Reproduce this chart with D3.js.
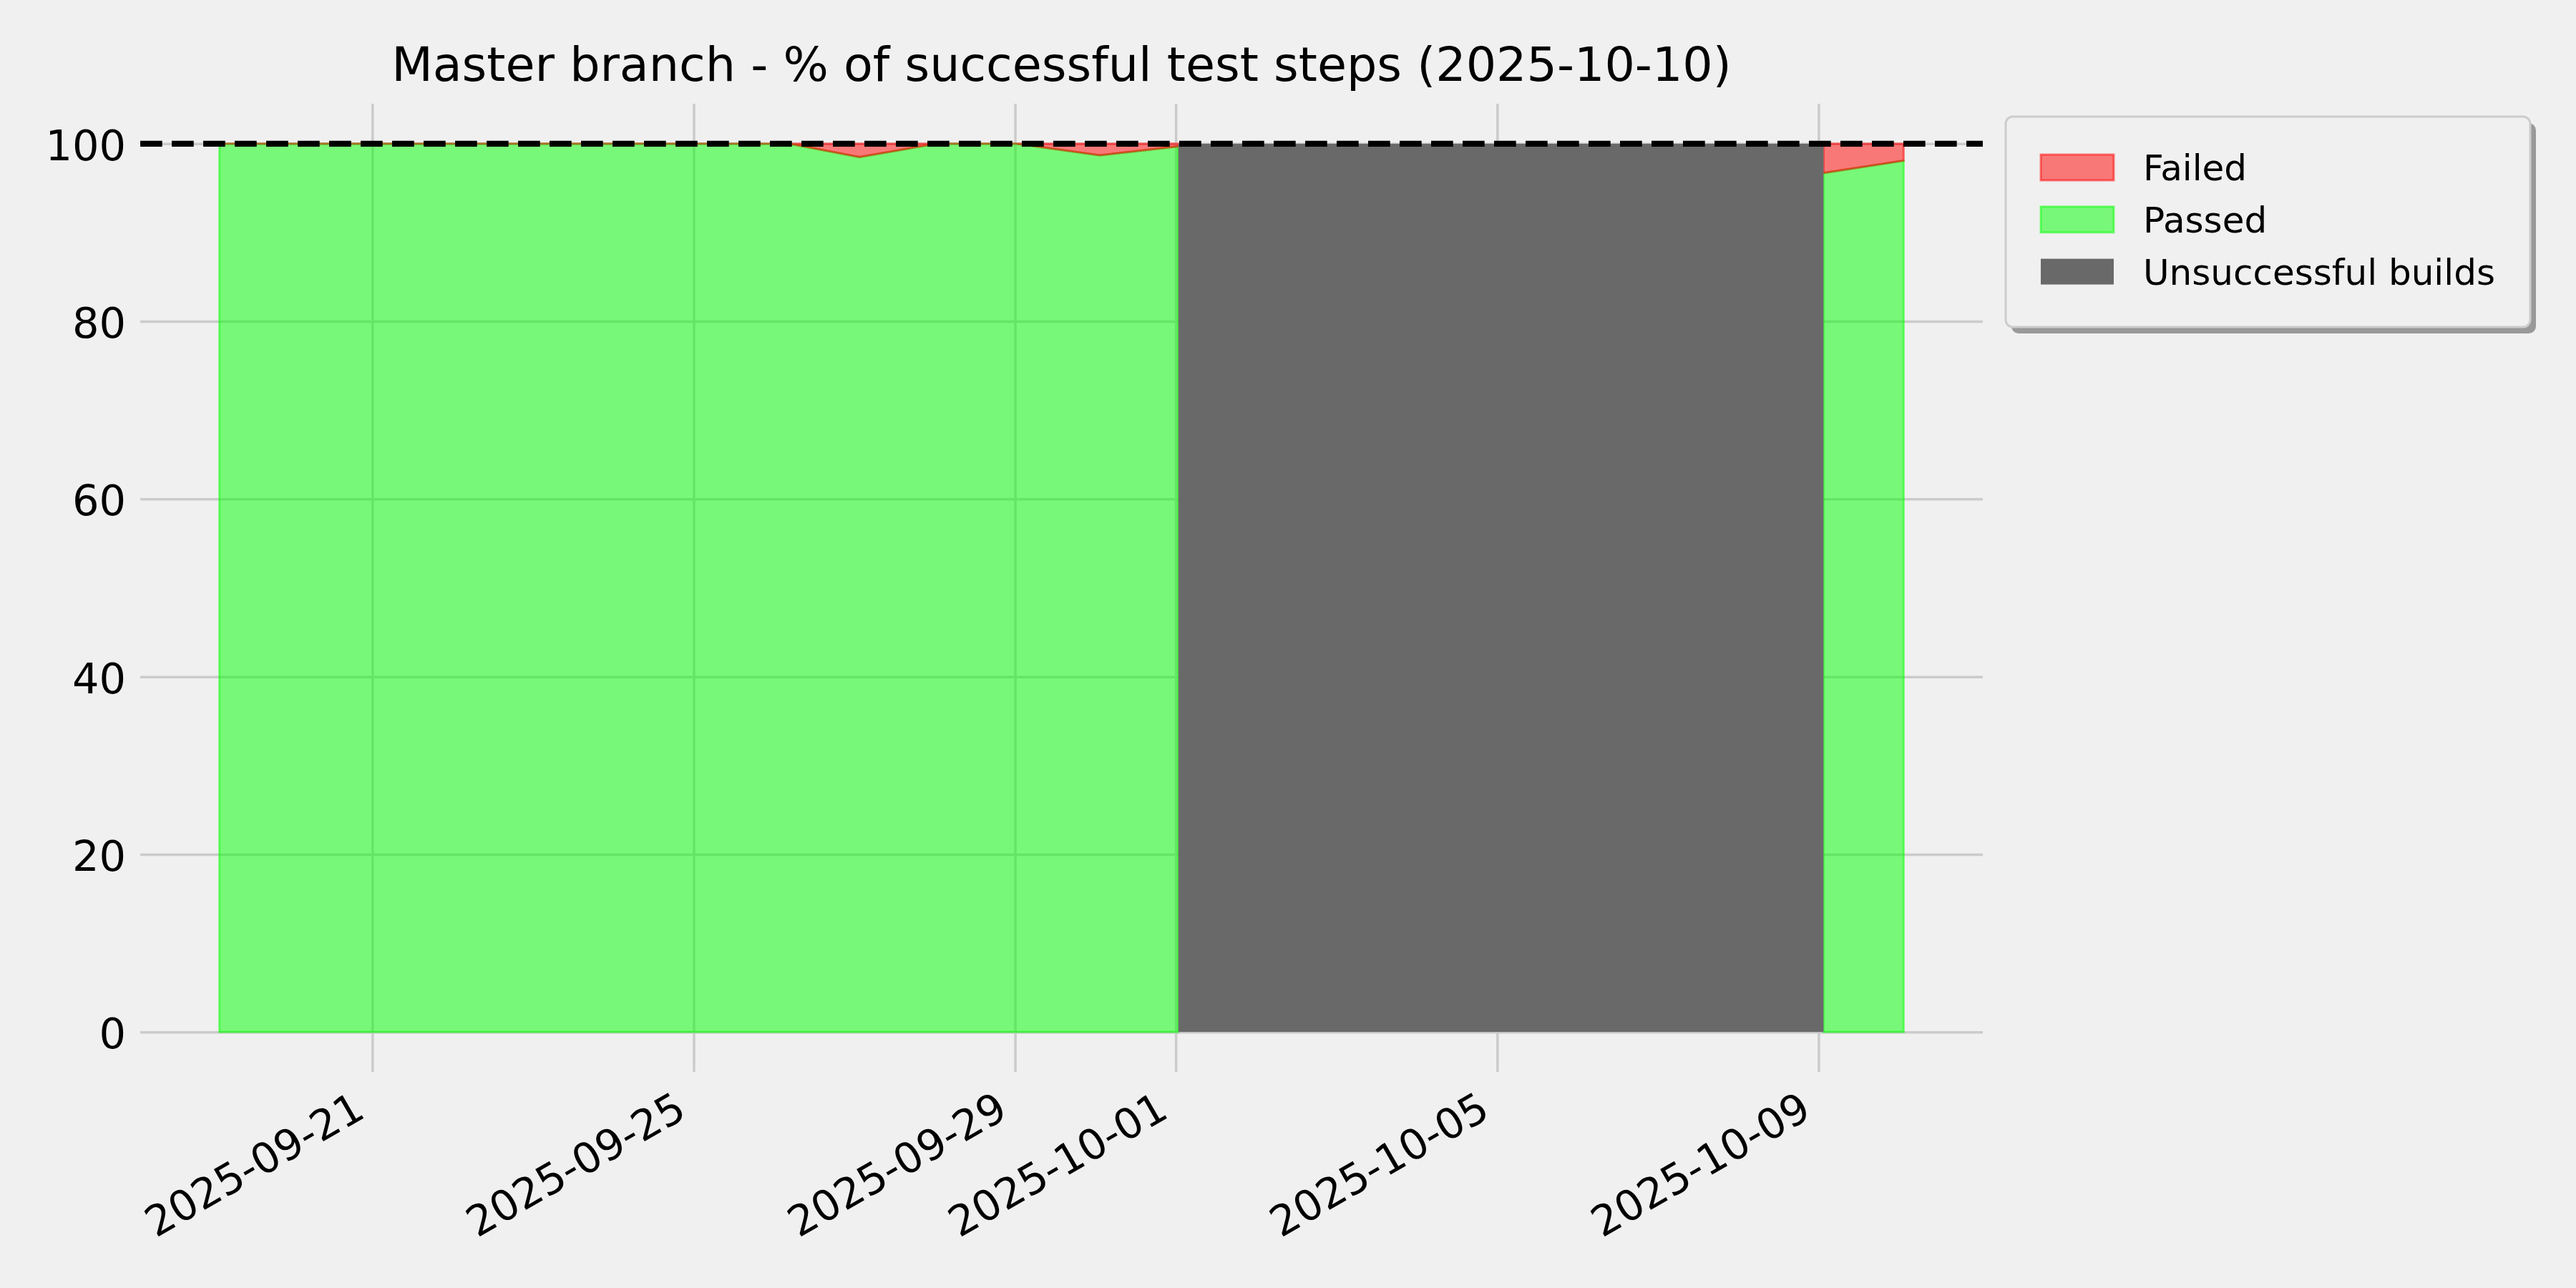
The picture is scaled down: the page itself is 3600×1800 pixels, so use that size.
<!DOCTYPE html>
<html>
<head>
<meta charset="utf-8">
<script src="https://cdn.jsdelivr.net/npm/d3@7"></script>
<style>
  body { margin: 0; background: #f0f0f0; }
  text { font-family: "DejaVu Sans", sans-serif; fill: #000; }
</style>
</head>
<body>
<svg id="chart"></svg>
<script>
// daily master builds, null = build did not succeed
var buildTimes = ["2025-09-19 02:20", "2025-09-20 01:30", "2025-09-21 01:30", "2025-09-22 01:30",
                  "2025-09-23 01:30", "2025-09-24 01:30", "2025-09-25 01:30", "2025-09-26 04:30",
                  "2025-09-27 01:30", "2025-09-28 00:30", "2025-09-29 00:15", "2025-09-30 01:20",
                  "2025-10-01 00:45", "2025-10-02 01:30", "2025-10-03 01:30", "2025-10-04 01:30",
                  "2025-10-05 01:30", "2025-10-06 01:30", "2025-10-07 01:30", "2025-10-08 01:30",
                  "2025-10-09 01:30", "2025-10-10 01:25"]
var passed = [100, 100, 100, 100, 100, 100, 100, 100, 98.5, 100, 100, 98.7, 99.7,
              null, null, null, null, null, null, null, 96.7, 98.1]
var failed = [0, 0, 0, 0, 0, 0, 0, 0, 1.5, 0, 0, 1.3, 0.3,
              null, null, null, null, null, null, null, 3.3, 1.9]

var xTicks = ["2025-09-21", "2025-09-25", "2025-09-29", "2025-10-01", "2025-10-05", "2025-10-09"]
var yTicks = [0, 20, 40, 60, 80, 100]
var legendNames = ["Failed", "Passed", "Unsuccessful builds"]
var titleText = "Master branch - % of successful test steps (2025-10-10)"

var screen = {width: 3600, height: 1800}
var margins = {top: 145, right: 829, bottom: 302, left: 196}
var width = screen.width - margins.left - margins.right
var height = screen.height - margins.top - margins.bottom

var parseTime = d3.utcParse("%Y-%m-%d %H:%M")
var parseDay = d3.utcParse("%Y-%m-%d")

var rows = buildTimes.map(function(t, i) {
    return {date: parseTime(t), passed: passed[i], failed: failed[i]}
})

var svg = d3.select("#chart")
    .attr("width", screen.width)
    .attr("height", screen.height)

svg.append("rect")
    .attr("width", screen.width)
    .attr("height", screen.height)
    .attr("fill", "#f0f0f0")

var graph = svg.append("g")
    .attr("transform", "translate(" + margins.left + "," + margins.top + ")")

// x limits with a small margin round the data
var t0 = rows[0].date, t1 = rows[rows.length - 1].date
var pad = (t1 - t0) * 0.047
var xScale = d3.scaleUtc()
    .domain([new Date(+t0 - pad), new Date(+t1 + pad)])
    .range([0, width])

var yScale = d3.scaleLinear()
    .domain([-4.5, 104.5])
    .range([height, 0])

// grid + tick labels
var yAxis = d3.axisLeft(yScale)
    .tickValues(yTicks)
    .tickSize(-width)
    .tickPadding(20)

var gy = graph.append("g").attr("id", "yAxis").call(yAxis)
gy.select(".domain").remove()
gy.selectAll("line").attr("stroke", "#cbcbcb").attr("stroke-width", 3.5)
gy.selectAll("text")
    .attr("dy", "0.38em")
    .attr("font-size", 59)
    .attr("font-family", "DejaVu Sans")
    .attr("fill", "#000")

var xAxis = d3.axisBottom(xScale)
    .tickValues(xTicks.map(parseDay))
    .tickFormat(d3.utcFormat("%Y-%m-%d"))
    .tickSize(-height)

var gx = graph.append("g")
    .attr("id", "xAxis")
    .attr("transform", "translate(0," + height + ")")
    .call(xAxis)
gx.select(".domain").remove()
gx.selectAll("line").attr("stroke", "#cbcbcb").attr("stroke-width", 3.5)
gx.selectAll("text")
    .attr("x", 0)
    .attr("y", 0)
    .attr("dy", null)
    .attr("text-anchor", "end")
    .attr("transform", "translate(-8,62) rotate(-30)")
    .attr("font-size", 58.6)
    .attr("font-family", "DejaVu Sans")
    .attr("fill", "#000")

// passed / failed areas
var ok = function(d) { return d.passed != null }

var passedArea = d3.area()
    .defined(ok)
    .x(function(d) { return xScale(d.date) })
    .y0(yScale(0))
    .y1(function(d) { return yScale(d.passed) })

var failedArea = d3.area()
    .defined(ok)
    .x(function(d) { return xScale(d.date) })
    .y0(function(d) { return yScale(d.passed) })
    .y1(function(d) { return yScale(d.passed + d.failed) })

graph.append("path")
    .datum(rows)
    .attr("d", passedArea)
    .attr("fill", "#00ff00")
    .attr("fill-opacity", 0.5)
    .attr("stroke", "#00ff00")
    .attr("stroke-opacity", 0.5)
    .attr("stroke-width", 3)

graph.append("path")
    .datum(rows)
    .attr("d", failedArea)
    .attr("fill", "#ff0000")
    .attr("fill-opacity", 0.5)
    .attr("stroke", "#ff0000")
    .attr("stroke-opacity", 0.5)
    .attr("stroke-width", 3)

// unsuccessful builds: from last good build to next good build
var gaps = []
rows.forEach(function(d, i) {
    if (d.passed == null && i > 0 && rows[i - 1].passed != null) {
        var j = i
        while (j < rows.length && rows[j].passed == null) j++
        if (j < rows.length) gaps.push([rows[i - 1].date, rows[j].date])
    }
})

graph.selectAll(".gap")
    .data(gaps)
    .enter()
    .append("rect")
    .attr("class", "gap")
    .attr("x", function(g) { return xScale(g[0]) })
    .attr("width", function(g) { return xScale(g[1]) - xScale(g[0]) })
    .attr("y", yScale(100))
    .attr("height", yScale(0) - yScale(100))
    .attr("fill", "#696969")

// 100% reference
graph.append("line")
    .attr("x1", 0)
    .attr("x2", width)
    .attr("y1", yScale(100))
    .attr("y2", yScale(100))
    .attr("stroke", "#000")
    .attr("stroke-width", 8.3)
    .attr("stroke-dasharray", "30.7,13.3")

// title
svg.append("text")
    .attr("x", margins.left + width / 2)
    .attr("y", 113)
    .attr("text-anchor", "middle")
    .attr("font-size", 66.7)
    .text(titleText)

// legend
var legend = svg.append("g")
    .attr("id", "legend")
    .attr("transform", "translate(2803,163)")

legend.append("rect")
    .attr("x", 8).attr("y", 9)
    .attr("width", 733).attr("height", 294)
    .attr("rx", 10)
    .attr("fill", "#999999")

legend.append("rect")
    .attr("width", 733).attr("height", 294)
    .attr("rx", 10)
    .attr("fill", "#f0f0f0")
    .attr("stroke", "#cccccc")
    .attr("stroke-width", 3)

var swatches = [
    {fill: "#ff0000", op: 0.5, stroke: "#ff0000"},
    {fill: "#00ff00", op: 0.5, stroke: "#00ff00"},
    {fill: "#696969", op: 1, stroke: "none"}
]

var gs = legend.selectAll(".item")
    .data(legendNames)
    .enter()
    .append("g")
    .attr("class", "item")
    .attr("transform", function(d, i) { return "translate(0," + (i * 72.8) + ")" })

gs.append("rect")
    .attr("x", 49).attr("y", 53)
    .attr("width", 102).attr("height", 36)
    .attr("fill", function(d, i) { return swatches[i].fill })
    .attr("fill-opacity", function(d, i) { return swatches[i].op })
    .attr("stroke", function(d, i) { return swatches[i].stroke })
    .attr("stroke-opacity", 0.5)
    .attr("stroke-width", 3)

gs.append("text")
    .attr("x", 192)
    .attr("y", 89)
    .attr("font-size", 50)
    .text(function(d) { return d })
</script>
</body>
</html>
